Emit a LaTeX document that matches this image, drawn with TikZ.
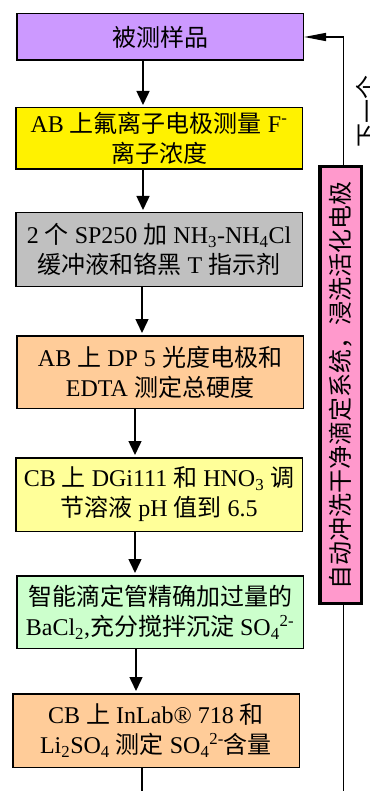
\documentclass[tikz,border=0pt]{standalone}
\usepackage{fontspec}
\setmainfont{Liberation Serif}
\newfontfamily\cjk{Noto Sans CJK SC}
\newcommand{\zh}[1]{{\cjk #1}}
\usetikzlibrary{arrows.meta}
\definecolor{lilac}{HTML}{CC99FF}
\definecolor{greybox}{HTML}{C0C0C0}
\definecolor{peach}{HTML}{FFCC99}
\definecolor{paleyellow}{HTML}{FFFF99}
\definecolor{palegreen}{HTML}{CCFFCC}
\definecolor{rinse}{HTML}{FF99CC}

\begin{document}
\begin{tikzpicture}
	[x=1pt,y=-1pt,font=\fontsize{24}{30}\selectfont,
	 stepbox/.style={draw,line width=1.5pt,minimum width=286.5pt,align=center,inner sep=2pt},
	 flow/.style={line width=1.5pt,shorten >=2pt,-{Triangle[width=13pt,length=14pt]}},
	 loopline/.style={line width=1.5pt}]
\useasboundingbox (0,0) rectangle (369,791);
% the measuring steps
\node[stepbox,fill=lilac,minimum height=46.5pt] (b1) at (160,37) {\zh{被测样品}};
\node[stepbox,fill=yellow,minimum height=61.5pt] (b2) at (159,138.5)
	{AB \zh{上氟离子电极测量} F\textsuperscript{-}\\\zh{离子浓度}};
\node[stepbox,fill=greybox,minimum height=73.5pt] (b3) at (159,249.5)
	{2 \zh{个} SP250 \zh{加} NH\textsubscript{3}-NH\textsubscript{4}Cl\\\zh{缓冲液和铬黑} T \zh{指示剂}};
\node[stepbox,fill=peach,minimum height=72.5pt] (b4) at (160,372)
	{AB \zh{上} DP 5 \zh{光度电极和}\\EDTA \zh{测定总硬度}};
\node[stepbox,fill=paleyellow,minimum height=73.5pt] (b5) at (159,494.5)
	{CB \zh{上} DGi111 \zh{和} HNO\textsubscript{3} \zh{调}\\\zh{节溶液} pH \zh{值到} 6.5};
\node[stepbox,fill=palegreen,minimum height=72.5pt] (b6) at (160,612)
	{\zh{智能滴定管精确加过量的}\\BaCl\textsubscript{2},\zh{充分搅拌沉淀} SO\textsubscript{4}\textsuperscript{2-}};
\node[stepbox,fill=peach,minimum height=73.5pt] (b7) at (156,730.5)
	{CB \zh{上} InLab® 718 \zh{和}\\Li\textsubscript{2}SO\textsubscript{4} \zh{测定} SO\textsubscript{4}\textsuperscript{2-}\zh{含量}};
% rinsing box and loop back
\node[draw,line width=3.5pt,fill=rinse,minimum width=41.5pt,minimum height=436.5pt,inner sep=0pt]
	(pk) at (340.5,385) {\rotatebox{90}{\zh{自动冲洗干净滴定系统，浸洗活化电极}}};
\node[rotate=90] (nxt) at (367,112) {\zh{下一个}};
\coordinate (endL) at (142,791);
\coordinate (endR) at (343.5,791);

\foreach \a/\b/\x in {b1/b2/143,b2/b3/143,b3/b4/142,b4/b5/135,b5/b6/135,b6/b7/136}
	\draw[flow] (\a.south -| \x,0) -- (\b.north -| \x,0);
\draw[loopline] (b7.south -| endL) -- (endL);
\draw[loopline] (pk.south -| endR) -- (endR);
\draw[loopline,-{Triangle[width=8pt,length=22pt]}] (pk.north -| endR) |- (b1.east);
\end{tikzpicture}
\end{document}
